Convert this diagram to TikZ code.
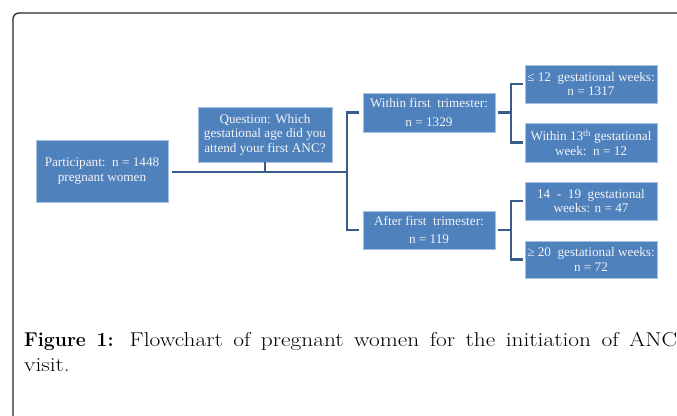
\documentclass[tikz,border=0pt]{standalone}
\usepackage{fontspec}
\newfontfamily\boxfont{Liberation Serif}
\newfontfamily\capfont[FakeStretch=1.17, BoldFeatures={FakeStretch=0.97}]{Latin Modern Roman}
\definecolor{boxblue}{HTML}{4F81BD}
\definecolor{boxedge}{HTML}{A7C0DE}
\definecolor{linkblue}{HTML}{385D8A}
\definecolor{boxtext}{HTML}{F4F4F4}
\tikzset{
  flowbox/.style={rectangle, fill=boxblue, draw=boxedge, line width=0.6pt,
    minimum width=132pt, inner sep=1pt, align=center, text=boxtext,
    font=\boxfont\fontsize{13.2}{14.5}\selectfont},
  link/.style={draw=linkblue, line width=2.3pt},
  frame/.style={draw=black!85, line width=1.3pt, rounded corners=6pt}
}
\begin{document}
\begin{tikzpicture}[x=1pt,y=-1pt]
\useasboundingbox (0,0) rectangle (677,415);
\clip (0,0) rectangle (677,415);
\fill[white] (0,0) rectangle (677,415);
\draw[frame] (13,440) -- (13,13) -- (700,13);

\node[flowbox, minimum height=62pt] (part) at (102,171) {Participant:\ \ n = 1448\\pregnant women};
\node[flowbox, minimum width=134pt, minimum height=55pt] (quest) at (265,134.5) {Question: Which\\gestational age did you\\attend your first ANC?};
\node[flowbox, minimum height=39pt] (within) at (429,112.5) {Within first\ \ trimester:\\[4pt]n = 1329};
\node[flowbox, minimum height=38pt] (after) at (429,230) {After first\ \ trimester:\\[4pt]n = 119};
\node[flowbox, minimum height=38pt] (le12) at (591,84) {≤ 12\ \ gestational weeks:\\n = 1317};
\node[flowbox, minimum height=39pt] (w13) at (591,142.5) {Within 13\textsuperscript{th} gestational\\week:\ \ n = 12};
\node[flowbox, minimum height=38pt] (b1419) at (591,201) {14\ \ -\ \ 19\ \ gestational\\weeks: n = 47};
\node[flowbox, minimum height=37pt] (ge20) at (591,259.5) {≥ 20\ \ gestational weeks:\\n = 72};

\coordinate (j1) at (347,172);
\coordinate (j2) at (511,0);

% participant to main bracket
\draw[link] ([xshift=4pt]part.east |- j1) -- (j1);
\draw[link] (quest.south) -- (quest.south |- j1);
\draw[link] ([xshift=-4pt]within.west) -- (within.west -| j1) -- (after.west -| j1) -- ([xshift=-4pt]after.west);

% right brackets
\draw[link] ([xshift=3pt]within.east) -- (within.east -| j2);
\draw[link] ([xshift=-2pt]le12.west) -- (le12.west -| j2) -- (w13.west -| j2) -- ([xshift=-2pt]w13.west);
\draw[link] ([xshift=3pt]after.east) -- (after.east -| j2);
\draw[link] ([xshift=-2pt]b1419.west) -- (b1419.west -| j2) -- (ge20.west -| j2) -- ([xshift=-2pt]ge20.west);

% caption
\node[anchor=base west, inner sep=0pt, font=\capfont\fontsize{20}{25}\selectfont] (cap1) at (24,346)
  {\makebox[653pt][s]{\textbf{Figure 1:} Flowchart of pregnant women for the initiation of ANC}};
\node[anchor=base west, inner sep=0pt, font=\capfont\fontsize{20}{25}\selectfont] (cap2) at (24,371) {visit.};
\end{tikzpicture}
\end{document}
